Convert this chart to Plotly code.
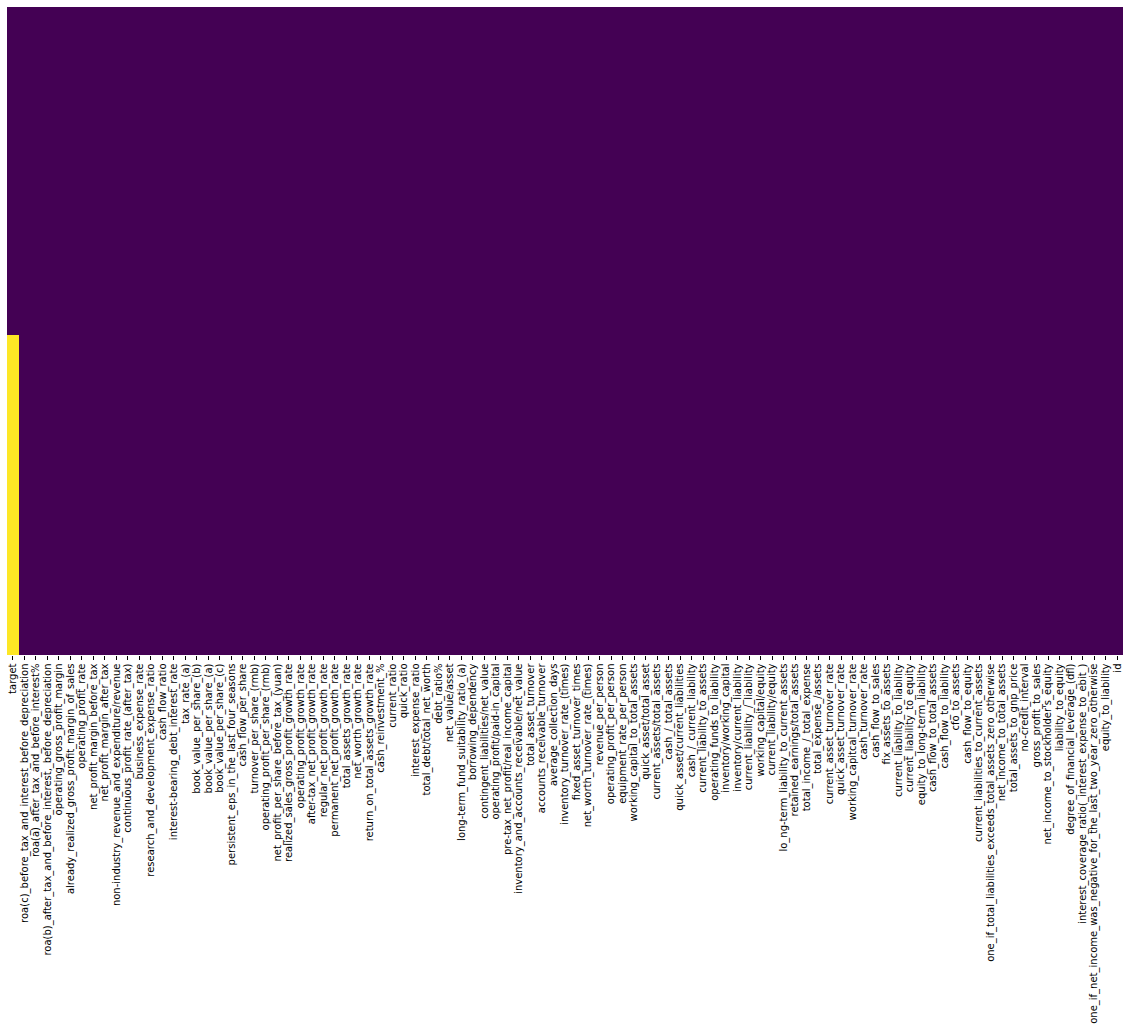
import plotly.graph_objects as go

columns = [
    "target",
    "roa(c)_before_tax_and_interest_before_depreciation",
    "roa(a)_after_tax_and_before_interest%",
    "roa(b)_after_tax_and_before_interest,_before_depreciation",
    "operating_gross_profit_margin",
    "already_realized_gross_profit_margin_of_sales",
    "operating_profit_rate",
    "net_profit_margin_before_tax",
    "net_profit_margin_after_tax",
    "non-industry_revenue_and_expenditure/revenue",
    "continuous_profit_rate_(after_tax)",
    "business_expense_rate",
    "research_and_development_expense_ratio",
    "cash_flow_ratio",
    "interest-bearing_debt_interest_rate",
    "tax_rate_(a)",
    "book_value_per_share_(b)",
    "book_value_per_share_(a)",
    "book_value_per_share_(c)",
    "persistent_eps_in_the_last_four_seasons",
    "cash_flow_per_share",
    "turnover_per_share_(rmb)",
    "operating_profit_per_share_(rmb)",
    "net_profit_per_share_before_tax_(yuan)",
    "realized_sales_gross_profit_growth_rate",
    "operating_profit_growth_rate",
    "after-tax_net_profit_growth_rate",
    "regular_net_profit_growth_rate",
    "permanent_net_profit_growth_rate",
    "total_assets_growth_rate",
    "net_worth_growth_rate",
    "return_on_total_assets_growth_rate",
    "cash_reinvestment_%",
    "current_ratio",
    "quick_ratio",
    "interest_expense_ratio",
    "total_debt/total_net_worth",
    "debt_ratio%",
    "net_value/asset",
    "long-term_fund_suitability_ratio_(a)",
    "borrowing_dependency",
    "contingent_liabilities/net_value",
    "operating_profit/paid-in_capital",
    "pre-tax_net_profit/real_income_capital",
    "inventory_and_accounts_receivable/net_value",
    "total_asset_turnover",
    "accounts_receivable_turnover",
    "average_collection_days",
    "inventory_turnover_rate_(times)",
    "fixed_asset_turnover_times",
    "net_worth_turnover_rate_(times)",
    "revenue_per_person",
    "operating_profit_per_person",
    "equipment_rate_per_person",
    "working_capital_to_total_assets",
    "quick_asset/total_asset",
    "current_assets/total_assets",
    "cash_/_total_assets",
    "quick_asset/current_liabilities",
    "cash_/_current_liability",
    "current_liability_to_assets",
    "operating_funds_to_liability",
    "inventory/working_capital",
    "inventory/current_liability",
    "current_liability_/_liability",
    "working_capital/equity",
    "current_liability/equity",
    "lo_ng-term_liability_to_current_assets",
    "retained_earnings/total_assets",
    "total_income_/_total_expense",
    "total_expense_/assets",
    "current_asset_turnover_rate",
    "quick_asset_turnover_rate",
    "working_capitcal_turnover_rate",
    "cash_turnover_rate",
    "cash_flow_to_sales",
    "fix_assets_to_assets",
    "current_liability_to_liability",
    "current_liability_to_equity",
    "equity_to_long-term_liability",
    "cash_flow_to_total_assets",
    "cash_flow_to_liability",
    "cfo_to_assets",
    "cash_flow_to_equity",
    "current_liabilities_to_current_assets",
    "one_if_total_liabilities_exceeds_total_assets_zero_otherwise",
    "net_income_to_total_assets",
    "total_assets_to_gnp_price",
    "no-credit_interval",
    "gross_profit_to_sales",
    "net_income_to_stockholder's_equity",
    "liability_to_equity",
    "degree_of_financial_leverage_(dfl)",
    "interest_coverage_ratio(_interest_expense_to_ebit_)",
    "one_if_net_income_was_negative_for_the_last_two_year_zero_otherwise",
    "equity_to_liability",
    "id",
]

# Row blocks: (number of rows, columns with missing values in that block)
block_rows = [3448, 3371]
block_missing = [[], ["target"]]

row_edges = [0]
for n in block_rows:
    row_edges.append(row_edges[-1] + n)

z = []
for miss in block_missing:
    z.append([1 if c in miss else 0 for c in columns])

xs = [x - 0.5 for x in range(len(columns) + 1)]

fig = go.Figure(
    go.Heatmap(
        z=z,
        x=xs,
        y=row_edges,
        zmin=0,
        zmax=1,
        colorscale=[[0, "#440154"], [1, "#fde725"]],
        showscale=False,
        hoverongaps=False,
    )
)

fig.update_layout(
    width=1130,
    height=1033,
    margin=dict(l=7, r=7, t=7, b=378),
    paper_bgcolor="white",
    plot_bgcolor="white",
    font=dict(family="DejaVu Sans", size=10, color="black"),
)
fig.update_xaxes(
    range=[-0.5, len(columns) - 0.5],
    tickmode="array",
    tickvals=list(range(len(columns))),
    ticktext=columns,
    tickangle=-90,
    ticks="outside",
    ticklen=3.5,
    tickwidth=0.8,
    tickcolor="black",
    showgrid=False,
    zeroline=False,
    showline=False,
    tickfont=dict(family="DejaVu Sans", size=10, color="black"),
)
fig.update_yaxes(
    range=[row_edges[-1], 0],
    showticklabels=False,
    ticks="",
    showgrid=False,
    zeroline=False,
    showline=False,
)

fig.write_html("out.html")
